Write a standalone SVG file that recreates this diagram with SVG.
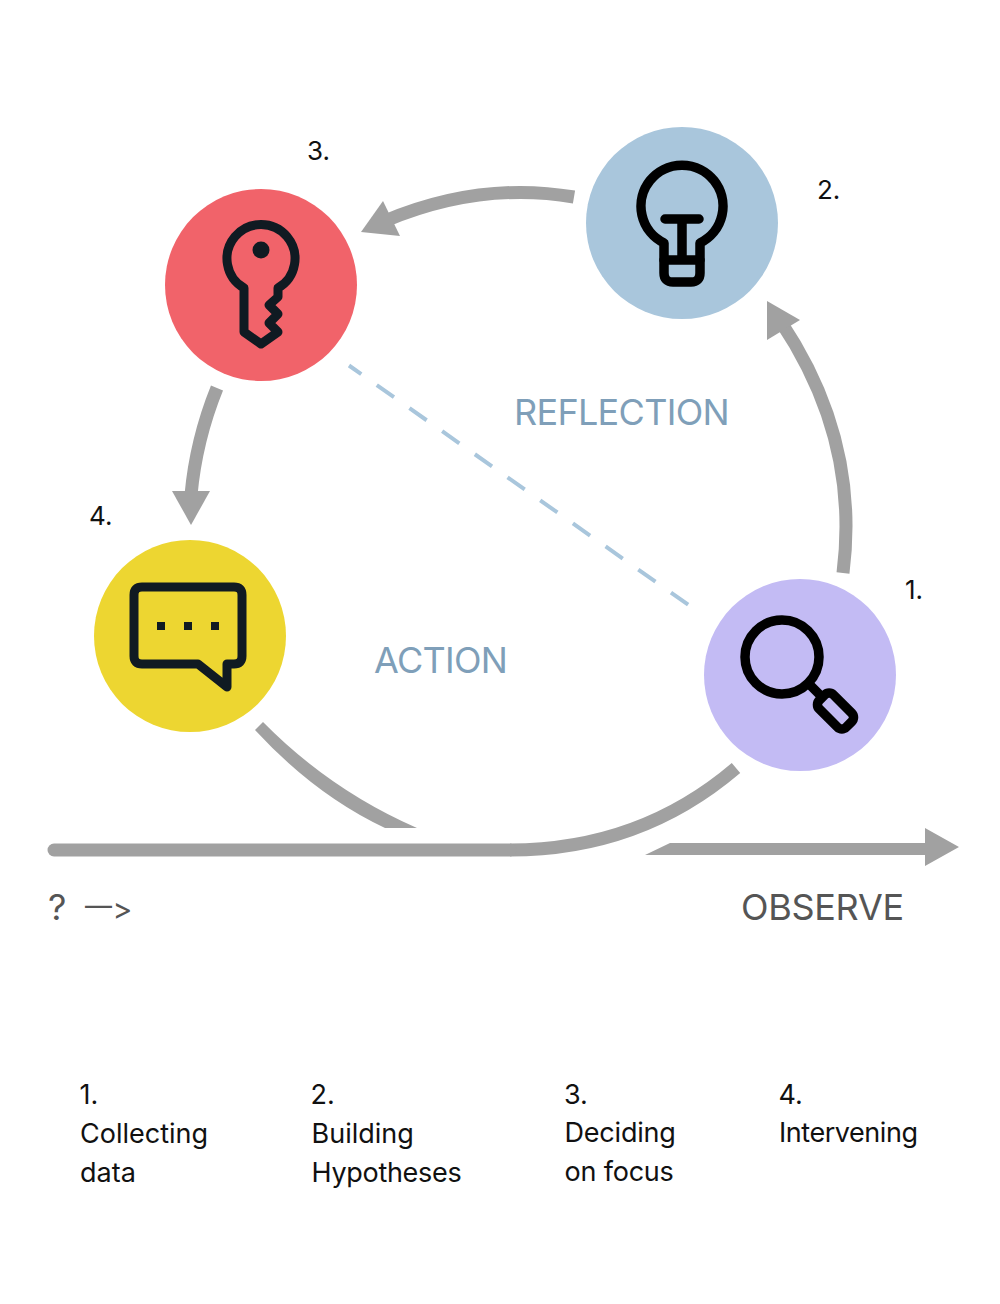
<svg xmlns="http://www.w3.org/2000/svg" width="1000" height="1304" viewBox="0 0 1000 1304">
<style>
text{font-family:"Inter","Liberation Sans",sans-serif;font-variant-ligatures:none;font-feature-settings:"calt" 0,"liga" 0}
.num{font-size:26px;fill:#111}
.cap{font-size:27px;fill:#111}
.big{font-size:36px;fill:#7f9fb9;letter-spacing:-.7px}
.obs{font-size:36px;fill:#555;letter-spacing:-.3px}
.ico{fill:none;stroke:#000;stroke-width:9.500;stroke-linejoin:round;stroke-linecap:round}
.ico2{fill:none;stroke:#101a22;stroke-width:9;stroke-linejoin:round;stroke-linecap:round}
.arc{fill:none;stroke:#a1a1a1;stroke-width:13}
.head{fill:#a1a1a1}
</style>
<rect width="1000" height="1304" fill="#fff"/>
<g id="connectors">
<path class="arc" d="M843 573Q860 440 781 322"/>
<polygon class="head" points="767,301 800,320 767,340"/>
<path class="arc" d="M574 197Q480 181 385 221"/>
<polygon class="head" points="361,232 383,201 400,236"/>
<path class="arc" d="M217 388Q196 440 191 495"/>
<polygon class="head" points="191,525 172,491 210,491"/>
<path class="arc" d="M510 850Q640 850 736 768"/>
<path d="M54 850H510" fill="none" stroke="#a1a1a1" stroke-width="13" stroke-linecap="round"/>
<path class="head" d="M263 722Q330 790 417 828H385Q315 795 255 730Z"/>
<polygon class="head" points="645,855 670,843 925,843 925,828 959,847 925,866 925,855"/>
<line x1="349" y1="365.500" x2="690" y2="606" stroke="#a9c6dc" stroke-width="4" stroke-dasharray="21 19" stroke-dashoffset="6"/>
</g>
<g id="node-3">
<circle cx="261" cy="285" r="96" fill="#f1636a"/>
<path class="ico2" d="M244 288A34 34 0 1 1 278 288V297L269 305L278 314L269 323L278 332L261 344L244 332Z"/>
<circle cx="261" cy="250" r="8.500" fill="#101a22"/>
</g>
<g id="node-2">
<circle cx="682" cy="223" r="96" fill="#a9c6dc"/>
<path class="ico" d="M664 243A41 41 0 1 1 700 243V273Q700 282 691 282H673Q664 282 664 273Z"/>
<path class="ico" d="M665 219H699M682 219V260M664 260H700"/>
</g>
<g id="node-4">
<circle cx="190" cy="636" r="96" fill="#edd631"/>
<path class="ico2" d="M142 587H234Q242 587 242 595V656Q242 664 234 664H227V687L198 664H142Q134 664 134 656V595Q134 587 142 587Z"/>
<rect x="157" y="622" width="8" height="8" fill="#101a22"/>
<rect x="184" y="622" width="8" height="8" fill="#101a22"/>
<rect x="211" y="622" width="8" height="8" fill="#101a22"/>
</g>
<g id="node-1">
<circle cx="800" cy="675" r="96" fill="#c3bbf4"/>
<circle class="ico" cx="782" cy="657" r="37"/>
<path class="ico" d="M810 685L820 695"/>
<rect class="ico" x="816.500" y="701" width="38" height="20" rx="6" transform="rotate(45 835.500 711)"/>
</g>
<g id="labels">
<text class="num" x="307" y="160">3.</text>
<text class="num" x="817" y="199">2.</text>
<text class="num" x="89" y="525">4.</text>
<text class="num" x="905" y="599">1.</text>
<text class="big" x="514" y="425">REFLECTION</text>
<text class="big" x="374" y="673">ACTION</text>
<text class="obs" x="741" y="920">OBSERVE</text>
<text class="obs" x="48" y="920">?</text>
<text class="obs" x="85" y="915" style="font-size:27px;letter-spacing:0">—<tspan x="112.500" y="920" style="font-size:30px">&gt;</tspan></text>
<text class="cap" x="79.500" y="1104">1.</text>
<text class="cap" x="80" y="1143">Collecting</text>
<text class="cap" x="80" y="1182">data</text>
<text class="cap" x="310.500" y="1104">2.</text>
<text class="cap" x="311.500" y="1143">Building</text>
<text class="cap" x="311.500" y="1182" letter-spacing="-.3">Hypotheses</text>
<text class="cap" x="564" y="1104">3.</text>
<text class="cap" x="564.500" y="1142" letter-spacing="-.2">Deciding</text>
<text class="cap" x="564.500" y="1181" letter-spacing="-.2">on focus</text>
<text class="cap" x="778.500" y="1104">4.</text>
<text class="cap" x="779" y="1142" letter-spacing="-.45">Intervening</text>
</g>
</svg>
